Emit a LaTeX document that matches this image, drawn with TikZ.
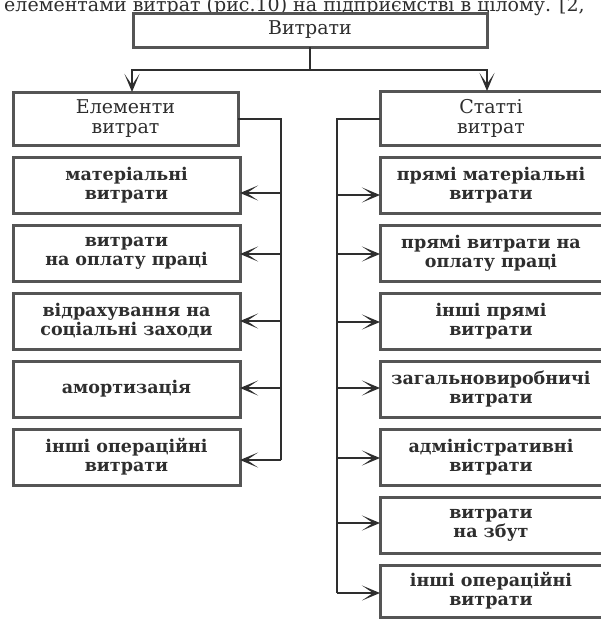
\documentclass[tikz,border=0pt]{standalone}
\usepackage{fontspec}
\setmainfont{DejaVu Serif}
\usetikzlibrary{arrows.meta}

\definecolor{ink}{HTML}{2E2E2E}
\definecolor{frame}{HTML}{555555}

\tikzset{
  box/.style={draw=frame, line width=3pt, outer sep=0pt, inner sep=0pt,
    minimum width=#1, minimum height=56pt, align=center, text=ink,
    font=\fontsize{17.5}{19}\selectfont\bfseries},
  box/.default=227pt,
  headbox/.style={box=#1, font=\fontsize{19}{20}\selectfont},
  wire/.style={draw=ink, line width=1.6pt},
  arr/.style={wire, -{Stealth[length=18pt,width=15pt,inset=11pt,line width=1.6pt]}},
}

\begin{document}
\begin{tikzpicture}[x=1pt,y=-1pt]
  \clip (0,0) rectangle (601,619);
  \fill[white] (0,0) rectangle (601,619);

  % running text line of the page, cut at the top edge
  \node[anchor=base west, inner sep=0pt, text=ink,
        font=\fontsize{19}{22}\selectfont] (pagetext) at (4,11)
        {елементами витрат (рис.10) на підприємстві в цілому. [2,};

  % root
  \node[headbox=354pt, minimum height=34pt] (root) at (310,30) {Витрати};

  % the two groups
  \node[headbox=225pt, minimum height=53pt] (elem) at (125.5,118.5) {Елементи\\витрат};
  \node[headbox=222pt, minimum height=54pt] (stat) at (491,118) {Статті\\витрат};

  % cost elements
  \node[box] (e1) at (126.5,185) {матеріальні\\витрати};
  \node[box] (e2) at (126.5,253) {витрати\\на оплату праці};
  \node[box] (e3) at (126.5,321) {відрахування на\\соціальні заходи};
  \node[box] (e4) at (126.5,389) {амортизація};
  \node[box] (e5) at (126.5,457) {інші операційні\\витрати};

  % cost items
  \node[box=222pt] (s1) at (491,185) {прямі матеріальні\\витрати};
  \node[box=222pt] (s2) at (491,253) {прямі витрати на\\оплату праці};
  \node[box=222pt] (s3) at (491,321) {інші прямі\\витрати};
  \node[box=222pt] (s4) at (491,389) {загальновиробничі\\витрати};
  \node[box=222pt] (s5) at (491,457) {адміністративні\\витрати};
  \node[box=222pt] (s6) at (491,525) {витрати\\на збут};
  \node[box=222pt, minimum height=52pt] (s7) at (491,591) {інші операційні\\витрати};

  % root splits into the two groups
  \coordinate (fork) at (310,70);
  \coordinate (forkL) at (elem.north -| 132,0);
  \coordinate (forkR) at (stat.north -| 487,0);
  \draw[wire] (root.south) -- (fork);
  \draw[arr] (fork) -| (forkL);
  \draw[arr] (fork) -| (forkR);

  % buses
  \coordinate (busL) at (281,119);
  \coordinate (busR) at (337,119);
  \draw[wire] (elem.east |- busL) -- (busL) -- (281,460);
  \draw[wire] (stat.west |- busR) -- (busR) -- (337,593);

  % branches to the elements
  \draw[arr] (281,193) -- (e1.east |- 0,193);
  \draw[arr] (281,254) -- (e2.east |- 0,254);
  \draw[arr] (281,321) -- (e3.east |- 0,321);
  \draw[arr] (281,388) -- (e4.east |- 0,388);
  \draw[arr] (281,460) -- (e5.east |- 0,460);

  % branches to the items
  \draw[arr] (337,195) -- (s1.west |- 0,195);
  \draw[arr] (337,254) -- (s2.west |- 0,254);
  \draw[arr] (337,322) -- (s3.west |- 0,322);
  \draw[arr] (337,388) -- (s4.west |- 0,388);
  \draw[arr] (337,458) -- (s5.west |- 0,458);
  \draw[arr] (337,523) -- (s6.west |- 0,523);
  \draw[arr] (337,593) -- (s7.west |- 0,593);
\end{tikzpicture}
\end{document}
